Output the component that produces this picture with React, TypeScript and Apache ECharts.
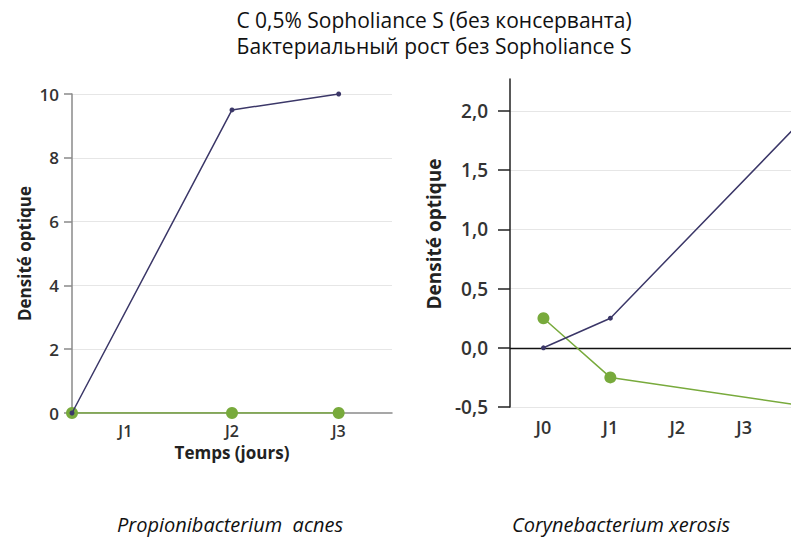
import React, { useEffect, useRef } from "react";
import * as echarts from "echarts";

const titleLines = ["С 0,5% Sopholiance S (без консерванта)", "Бактериальный рост без Sopholiance S"];
const speciesNames = ["Propionibacterium  acnes", "Corynebacterium xerosis"];
const yAxisTitle = "Densité optique";
const xAxisTitle = "Temps (jours)";

// Left panel: Propionibacterium acnes (day positions on the time axis)
const leftDays = [0.5, 2, 3];
const leftGrowth = [0, 9.5, 10];
const leftSopho = [0, 0, 0];

// Right panel: Corynebacterium xerosis
const rightDays = [0, 1, 4];
const rightGrowth = [0, 0.25, 2.0];
const rightSopho = [0.25, -0.25, -0.5];

const NAVY = "#3b3768";
const GREEN = "#78aa3c";
const FONT = "'Open Sans', 'Noto Sans', sans-serif";

const zip = (xs: number[], ys: number[]) => xs.map((x, i) => [x, ys[i]]);
const dayLabel = (v: number) => (Number.isInteger(v) ? "J" + v : "");

export default function App() {
  const ref = useRef<HTMLDivElement>(null);
  useEffect(() => {
    if (!ref.current) return;
    const chart = echarts.init(ref.current, undefined, { renderer: "svg" });
    const axisLabelStyle = { color: "#333", fontFamily: FONT, fontWeight: 600 as const };
    const headStyle = { fontFamily: FONT, fontSize: 21, fontWeight: "normal" as const, color: "#111" };
    const italicStyle = { fontFamily: FONT, fontSize: 20, fontStyle: "italic" as const, fontWeight: "normal" as const, color: "#111" };
    chart.setOption({
      animation: false,
      backgroundColor: "#ffffff",
      title: [
        { text: titleLines[0], left: 434, top: 9, textAlign: "center", padding: 0, textStyle: headStyle },
        { text: titleLines[1], left: 434, top: 35, textAlign: "center", padding: 0, textStyle: headStyle },
        { text: speciesNames[0], left: 225, top: 509, textAlign: "center", textStyle: italicStyle },
        { text: speciesNames[1], left: 616, top: 509, textAlign: "center", textStyle: italicStyle },
      ],
      grid: [
        { left: 72, top: 94, width: 320, height: 319 },
        { left: 510, top: 79, width: 281, height: 328 },
      ],
      xAxis: [
        {
          gridIndex: 0,
          type: "value",
          min: 0.5,
          max: 3.5,
          interval: 0.5,
          axisLine: { show: true, onZero: false, lineStyle: { color: "#8a8a8a", width: 1.5 } },
          axisTick: { show: false },
          splitLine: { show: false },
          axisLabel: { ...axisLabelStyle, fontSize: 16, margin: 10, formatter: dayLabel },
          name: xAxisTitle,
          nameLocation: "middle",
          nameGap: 30,
          nameTextStyle: { color: "#222", fontFamily: FONT, fontWeight: "bold", fontSize: 17 },
        },
        {
          gridIndex: 1,
          type: "value",
          min: -0.5,
          max: 3.7,
          interval: 0.5,
          axisLine: { show: false, onZero: false },
          axisTick: { show: false },
          splitLine: { show: false },
          axisLabel: { ...axisLabelStyle, fontSize: 18, margin: 11, formatter: dayLabel, showMaxLabel: false },
        },
      ],
      yAxis: [
        {
          gridIndex: 0,
          type: "value",
          min: 0,
          max: 10,
          interval: 2,
          axisLine: { show: true, onZero: false, lineStyle: { color: "#8a8a8a", width: 1.5 } },
          axisTick: { show: true, length: 8, lineStyle: { color: "#8a8a8a", width: 1.5 } },
          splitLine: { show: true, showMinLine: false, lineStyle: { color: "#e6e6e6", width: 1 } },
          axisLabel: { ...axisLabelStyle, fontSize: 17, margin: 13 },
          name: yAxisTitle,
          nameLocation: "middle",
          nameGap: 39,
          nameTextStyle: { color: "#222", fontFamily: FONT, fontWeight: "bold", fontSize: 17 },
        },
        {
          gridIndex: 1,
          type: "value",
          min: -0.5,
          max: 2.27,
          interval: 0.5,
          axisLine: { show: true, onZero: false, lineStyle: { color: "#222", width: 1.5 } },
          axisTick: { show: true, length: 12, lineStyle: { color: "#222", width: 1.5 } },
          splitLine: { show: true, showMaxLine: false, lineStyle: { color: "#e6e6e6", width: 1 } },
          axisLabel: {
            ...axisLabelStyle,
            fontSize: 19,
            margin: 22,
            showMaxLabel: false,
            formatter: (v: number) =>
              Math.abs(v * 2 - Math.round(v * 2)) < 1e-6 ? v.toFixed(1).replace(".", ",") : "",
          },
          name: yAxisTitle,
          nameLocation: "middle",
          nameGap: 67,
          nameTextStyle: { color: "#222", fontFamily: FONT, fontWeight: "bold", fontSize: 19, padding: [0, 0, 0, 18] },
        },
      ],
      series: [
        {
          type: "line",
          xAxisIndex: 0,
          yAxisIndex: 0,
          data: zip(leftDays, leftSopho),
          symbol: "circle",
          symbolSize: 12,
          itemStyle: { color: GREEN },
          lineStyle: { color: GREEN, width: 1.5 },
          z: 3,
        },
        {
          type: "line",
          xAxisIndex: 0,
          yAxisIndex: 0,
          data: zip(leftDays, leftGrowth),
          symbol: "circle",
          symbolSize: 5,
          itemStyle: { color: NAVY },
          lineStyle: { color: NAVY, width: 1.5 },
          z: 4,
        },
        {
          type: "line",
          xAxisIndex: 1,
          yAxisIndex: 1,
          data: zip(rightDays, rightSopho),
          symbol: "circle",
          symbolSize: 12,
          itemStyle: { color: GREEN },
          lineStyle: { color: GREEN, width: 1.5 },
          z: 3,
        },
        {
          type: "line",
          xAxisIndex: 1,
          yAxisIndex: 1,
          data: zip(rightDays, rightGrowth),
          symbol: "circle",
          symbolSize: 5,
          itemStyle: { color: NAVY },
          lineStyle: { color: NAVY, width: 1.5 },
          z: 4,
          markLine: {
            silent: true,
            symbol: ["none", "none"],
            label: { show: false },
            lineStyle: { color: "#111", width: 1.3, type: "solid" },
            data: [{ yAxis: 0 }],
            z: 2,
          },
        },
      ],
    });
    return () => chart.dispose();
  }, []);
  return (
    <div
      ref={ref}
      style={{ position: "absolute", left: 0, top: 0, width: 791, height: 546, background: "#fff" }}
    />
  );
}
